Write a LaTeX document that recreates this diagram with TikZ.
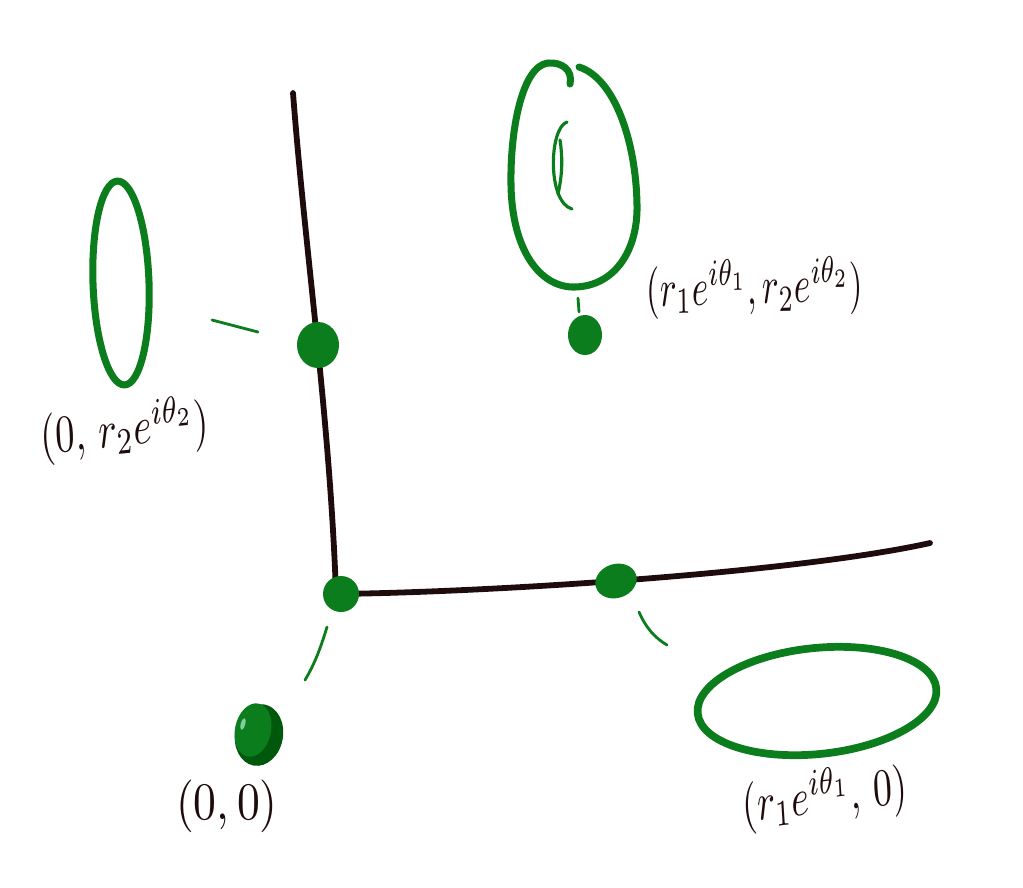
\documentclass[tikz,border=0pt]{standalone}
\definecolor{gr}{RGB}{12,125,28}
\definecolor{dgr}{RGB}{0,88,12}
\definecolor{hl}{RGB}{130,205,160}
\definecolor{ax}{RGB}{30,12,12}
\begin{document}
\begin{tikzpicture}[x=0.02cm,y=-0.02cm, line cap=round, line join=round,
 axis/.style={draw=ax, line width=3.3pt},
 ring/.style={draw=gr, line width=4pt},
 thinring/.style={draw=gr, line width=1.8pt},
 tick/.style={draw=gr, line width=1.6pt},
 lab/.style={text=ax, inner sep=0pt, yscale=3.0, transform shape}]
\useasboundingbox (0,0) rectangle (1023,887);
\fill[white] (0,0) rectangle (1023,887);

% axes
\coordinate (top) at (293,93);
\coordinate (O) at (336,594);
\coordinate (right) at (930,543);
\draw[axis] (top) .. controls (305,250) and (330,420) .. (O);
\draw[axis] (O) .. controls (500,592) and (800,572) .. (right);

% dots on axes and in space
\fill[gr] (318,345) ellipse (21 and 23);
\fill[gr] (341,594) circle (18);
\fill[gr, rotate around={18:(616,581)}] (616,581) ellipse (21 and 17);
\fill[gr] (585,335) ellipse (17 and 20);

% origin ball
\fill[dgr, rotate around={-10:(259,735)}] (259,735) ellipse (24 and 31);
\fill[gr, rotate around={-12:(253,730)}] (253,730) ellipse (18 and 27);
\fill[hl, rotate around={-15:(243,724)}] (243,724) ellipse (2.2 and 6);

% short strokes
\draw[tick] (212,320) -- (258,332);
\draw[tick] (578,298) -- (579,312);
\draw[tick] (327,627) .. controls (320,650) and (314,665) .. (305,680);
\draw[tick] (639,612) .. controls (646,628) and (655,638) .. (667,645);

% left circle
\draw[ring, rotate around={2:(121,283)}] (121,283) ellipse (28 and 102);

% bottom right circle
\draw[ring, line width=4.4pt, rotate around={6:(817,701)}] (817,701) ellipse (120 and 53);

% top torus
\draw[ring] (570,84) .. controls (573,70) and (562,62) .. (548,63)
  .. controls (522,66) and (510,130) .. (511,185)
  .. controls (512,250) and (540,288) .. (575,287)
  .. controls (615,286) and (638,250) .. (637,205)
  .. controls (636,140) and (614,78) .. (579,67);
\draw[thinring] (567,122) .. controls (549,128) and (547,202) .. (572,209);
\draw[thinring] (560,140) .. controls (563,160) and (562,176) .. (558,194);

% labels
\node[lab, xscale=2.2, rotate=4] (l1) at (125,430) {$(0,\, r_2e^{i\theta_2})$};
\node[lab, xscale=2.0, rotate=1] (l2) at (755,288) {$(r_1e^{i\theta_1},r_2e^{i\theta_2})$};
\node[lab, xscale=2.6] (l3) at (227,806) {$(0,0)$};
\node[lab, xscale=2.15, rotate=5] (l4) at (825,797) {$(r_1e^{i\theta_1},\, 0)$};
\end{tikzpicture}
\end{document}
